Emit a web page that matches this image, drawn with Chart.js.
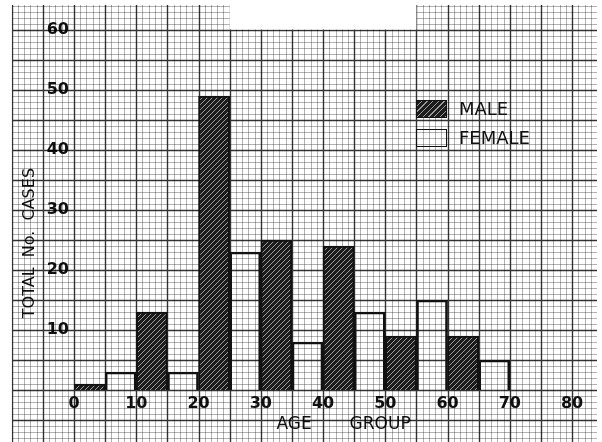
<!DOCTYPE html>
<html>
<head>
<meta charset="utf-8">
<script src="https://cdn.jsdelivr.net/npm/chart.js@4"></script>
<style>
  body { margin: 0; background: #fff; }
  #wrap { position: relative; width: 602px; height: 442px; }
  .leg { position: absolute; left: 416px; font: 18px "DejaVu Sans", sans-serif; color: #111; }
  .leg span.box { position: absolute; left: 0; width: 29px; height: 16px; border: 1.5px solid #111; }
  .leg span.txt { position: absolute; left: 43px; top: -2px; white-space: nowrap; }
  #legMale span.box { background: repeating-linear-gradient(135deg, #1c1c1c 0 3px, #9a9a9a 3px 4px); }
</style>
</head>
<body>
<div id="wrap">
  <canvas id="chart" width="602" height="442"></canvas>
  <div class="leg" id="legMale" style="top:100px"><span class="box"></span><span class="txt">MALE</span></div>
  <div class="leg" id="legFemale" style="top:129px"><span class="box"></span><span class="txt">FEMALE</span></div>
</div>
<script>
// age groups are 5 years wide, male and female alternate
const maleMid = [2.5, 12.5, 22.5, 32.5, 42.5, 52.5, 62.5];
const maleCases = [1, 13, 49, 25, 24, 9, 9];
const femaleMid = [7.5, 17.5, 27.5, 37.5, 47.5, 57.5, 67.5];
const femaleCases = [3, 3, 23, 8, 13, 15, 5];
const xTicks = [0, 10, 20, 30, 40, 50, 60, 70, 80];
const yTicks = [10, 20, 30, 40, 50, 60];

function hatch() {
    const c = document.createElement('canvas');
    c.width = 5; c.height = 5;
    const g = c.getContext('2d');
    g.fillStyle = '#1c1c1c';
    g.fillRect(0, 0, 5, 5);
    g.strokeStyle = 'rgba(200,200,200,0.75)';
    g.lineWidth = 1;
    g.beginPath();
    g.moveTo(0, 5); g.lineTo(5, 0);
    g.moveTo(-1, 1); g.lineTo(1, -1);
    g.moveTo(4, 6); g.lineTo(6, 4);
    g.stroke();
    return g.createPattern(c, 'repeat');
}

// graph paper drawn behind everything, it runs past the axes
const paper = {
    id: 'paper',
    beforeDatasetsDraw(chart) {
        const ctx = chart.ctx;
        const xs = chart.scales.x, ys = chart.scales.y;
        const px = v => xs.getPixelForValue(v);
        const py = v => ys.getPixelForValue(v);
        const outline = [[-10, -9], [-10, 64.2], [25, 64.2], [25, 60.1], [55, 60.1], [55, 64.2], [84, 64.2], [84, -9]];
        ctx.save();
        ctx.beginPath();
        outline.forEach((p, i) => i ? ctx.lineTo(px(p[0]), py(p[1])) : ctx.moveTo(px(p[0]), py(p[1])));
        ctx.closePath();
        ctx.clip();
        const top = py(64.2), bottom = py(-9), left = px(-10), right = px(84);
        for (let pass = 0; pass < 2; pass++) {
            ctx.beginPath();
            for (let v = -10; v <= 84; v++) {
                const bold = v % 5 === 0;
                if (bold !== (pass === 1)) continue;
                const x = Math.round(px(v)) + 0.5;
                ctx.moveTo(x, top); ctx.lineTo(x, bottom);
            }
            for (let v = -9; v <= 64; v++) {
                const bold = v % 5 === 0;
                if (bold !== (pass === 1)) continue;
                const y = Math.round(py(v)) + 0.5;
                ctx.moveTo(left, y); ctx.lineTo(right, y);
            }
            ctx.strokeStyle = pass ? 'rgba(0,0,0,0.8)' : 'rgba(0,0,0,0.3)';
            ctx.lineWidth = pass ? 1.4 : 1;
            ctx.stroke();
        }
        ctx.restore();
    }
};

Chart.defaults.font.family = '"DejaVu Sans", sans-serif';
Chart.defaults.color = '#111';

new Chart("chart", {
    type: "bar",
    data: {
        datasets: [{
            label: 'MALE',
            data: maleMid.map((m, i) => ({ x: m, y: maleCases[i] })),
            backgroundColor: hatch(),
            borderColor: '#111',
            borderWidth: 2
        }, {
            label: 'FEMALE',
            data: femaleMid.map((m, i) => ({ x: m, y: femaleCases[i] })),
            backgroundColor: 'rgba(0,0,0,0)',
            borderColor: '#111',
            borderWidth: 2
        }]
    },
    options: {
        responsive: false,
        animation: false,
        grouped: false,
        barPercentage: 1,
        categoryPercentage: 1,
        layout: { padding: { left: 0, top: 30, right: 5, bottom: 0 } },
        plugins: {
            legend: { display: false },
            tooltip: { enabled: false }
        },
        scales: {
            x: {
                type: 'linear',
                offset: false,
                min: 0,
                max: 84,
                grid: { display: false, drawTicks: false },
                border: { display: false },
                afterBuildTicks: s => { s.ticks = xTicks.map(v => ({ value: v })); },
                afterFit: s => { s.height = 52; },
                ticks: { font: { size: 16, weight: 'bold' }, padding: 4 },
                title: {
                    display: true,
                    text: '   AGE       GROUP',
                    font: { size: 17 },
                    padding: { top: 0, bottom: 7 }
                }
            },
            y: {
                min: 0,
                max: 60,
                grid: { display: false, drawTicks: false },
                border: { display: false },
                afterBuildTicks: s => { s.ticks = yTicks.map(v => ({ value: v })); },
                afterFit: s => { s.width = 74; },
                ticks: { font: { size: 16, weight: 'bold' }, padding: 5 },
                title: {
                    display: true,
                    text: 'TOTAL  No.  CASES             ',
                    font: { size: 16 },
                    padding: { top: 20, bottom: 0 }
                }
            }
        }
    },
    plugins: [paper]
});
</script>
</body>
</html>
